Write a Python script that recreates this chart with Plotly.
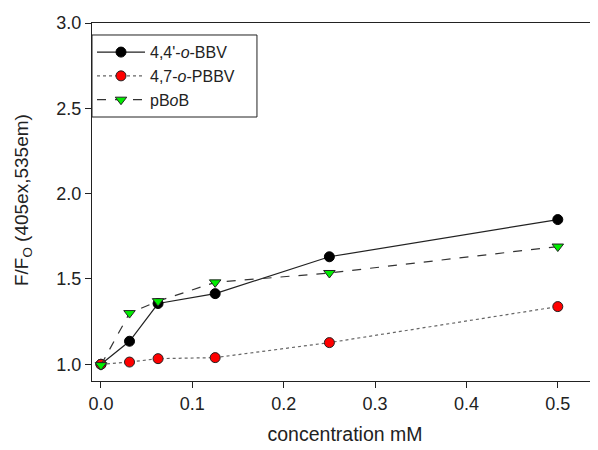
import plotly.graph_objects as go

conc = [0, 0.03125, 0.0625, 0.125, 0.25, 0.5]
bbv44 = [1.0, 1.135, 1.356, 1.414, 1.630, 1.848]
pbbv47 = [1.0, 1.013, 1.033, 1.039, 1.127, 1.338]
pbob = [0.995, 1.30, 1.37, 1.48, 1.535, 1.69]

names = ["4,4'-<i>o</i>-BBV", "4,7-<i>o</i>-PBBV", "pB<i>o</i>B"]
ytitle = "F/F<sub>O</sub> (405ex,535em)"
xtitle = "concentration mM"

fig = go.Figure()
fig.add_trace(go.Scatter(x=conc, y=bbv44, name=names[0], mode="lines+markers",
                         line=dict(color="#222222", width=1.2, dash="solid"),
                         marker=dict(symbol="circle", size=10, color="black",
                                     line=dict(color="black", width=1))))
fig.add_trace(go.Scatter(x=conc, y=pbbv47, name=names[1], mode="lines+markers",
                         line=dict(color="#666666", width=1.2, dash="dot"),
                         marker=dict(symbol="circle", size=10, color="#ff0000",
                                     line=dict(color="#222222", width=1))))
fig.add_trace(go.Scatter(x=conc, y=pbob, name=names[2], mode="lines+markers",
                         line=dict(color="#333333", width=1.2, dash="dash"),
                         marker=dict(symbol="triangle-down", size=10, color="#00ee00",
                                     line=dict(color="#222222", width=1))))

font = "Liberation Sans, Arial, sans-serif"
fig.update_layout(
    width=590, height=442,
    margin=dict(l=84, r=0, t=15, b=69, autoexpand=False),
    paper_bgcolor="white", plot_bgcolor="white",
    font=dict(family=font, size=18, color="#222222"),
    showlegend=True,
    legend=dict(x=0, y=0.966, xanchor="left", yanchor="top",
                borderwidth=0, bgcolor="rgba(0,0,0,0)",
                font=dict(size=16, family=font), tracegroupgap=0,
                itemwidth=48),
    xaxis=dict(range=[-0.0098, 0.544], tickvals=[0, 0.1, 0.2, 0.3, 0.4, 0.5],
               ticktext=["0.0", "0.1", "0.2", "0.3", "0.4", "0.5"],
               tickfont=dict(size=18), automargin=False,
               showgrid=False, zeroline=False, showline=True, linecolor="#222222",
               linewidth=1, mirror=True, ticks="outside", ticklen=6, tickcolor="#222222",
               title=dict(text=xtitle, font=dict(size=19.5), standoff=14)),
    yaxis=dict(range=[0.902, 3.0], tickvals=[1.0, 1.5, 2.0, 2.5, 3.0],
               ticktext=["1.0", "1.5", "2.0", "2.5", "3.0"],
               tickfont=dict(size=18), automargin=False,
               showgrid=False, zeroline=False, showline=True, linecolor="#222222",
               linewidth=1, ticks="outside", ticklen=6, tickcolor="#222222"),
    annotations=[dict(text=ytitle, xref="paper", yref="paper", x=-0.136, y=0.506,
                      xanchor="center", yanchor="middle", textangle=-90,
                      showarrow=False, font=dict(size=19, family=font, color="#222222"))],
    shapes=[dict(type="rect", xref="paper", yref="paper", x0=0, x1=0.326,
                 y0=0.7374, y1=0.9665, line=dict(color="#222222", width=1),
                 fillcolor="white", layer="above")],
)

fig.write_html("out.html")
